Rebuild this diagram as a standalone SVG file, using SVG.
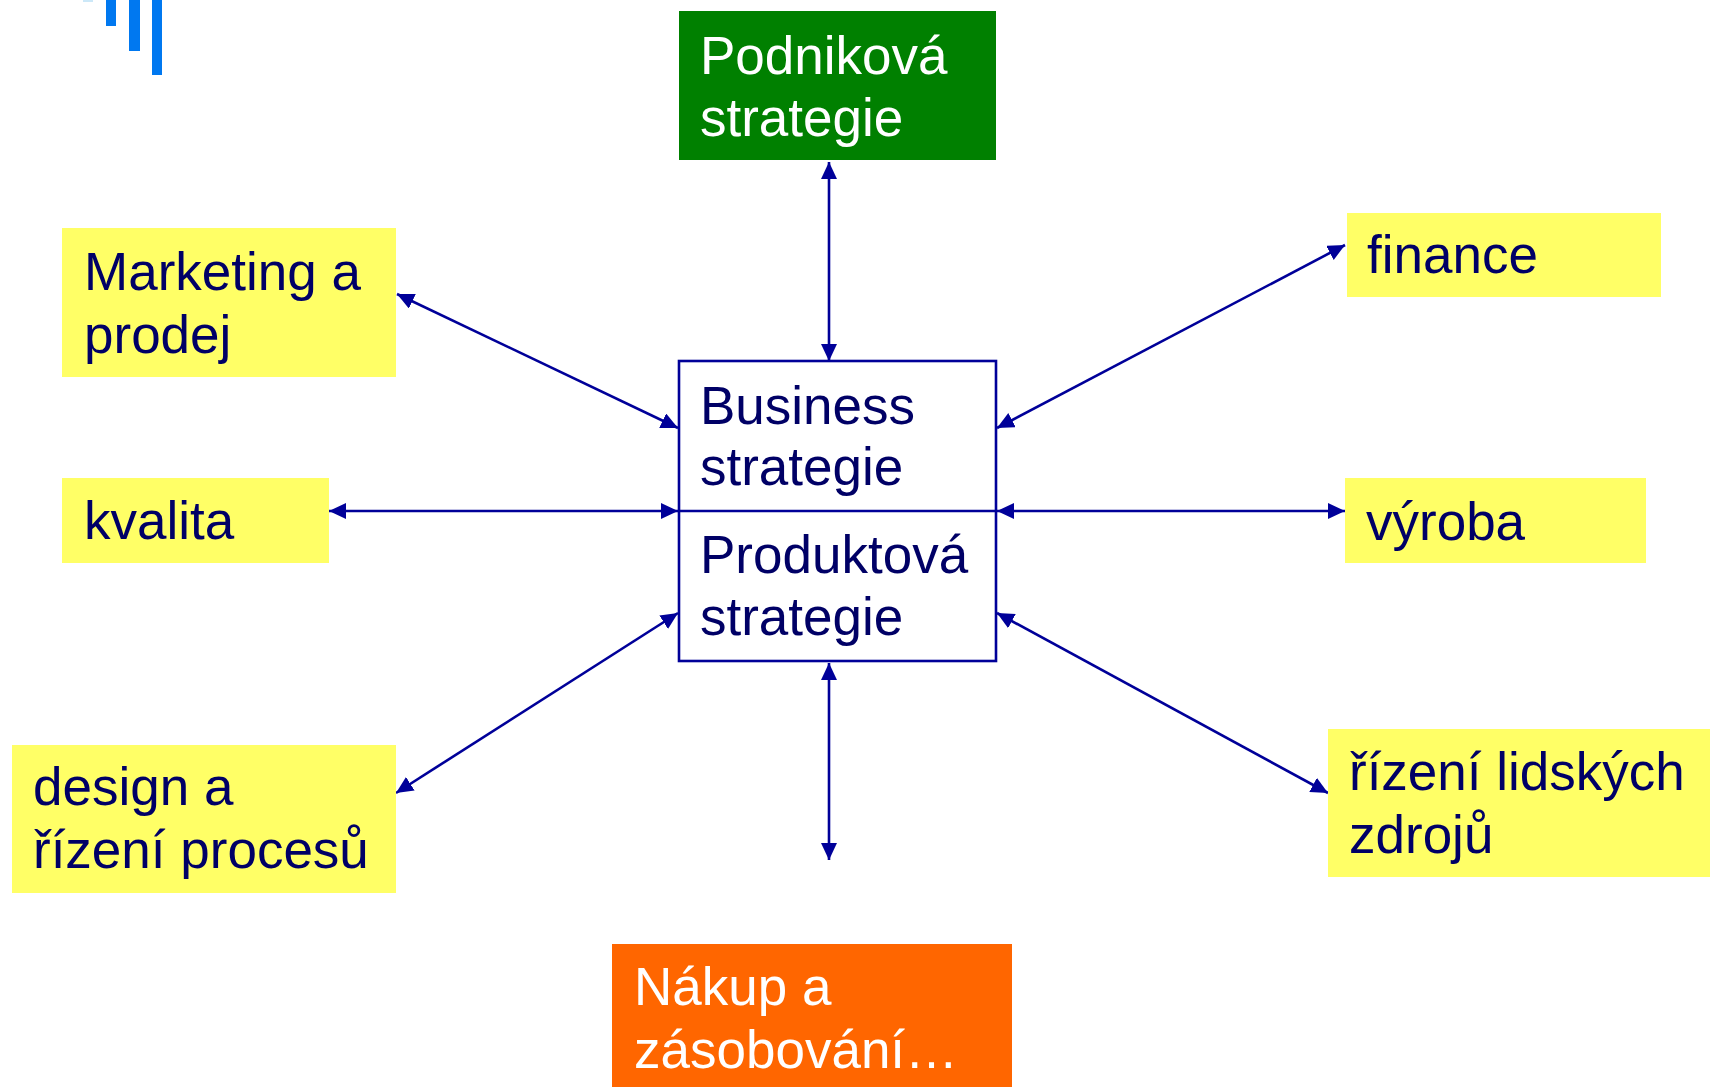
<svg xmlns="http://www.w3.org/2000/svg" width="1710" height="1087" viewBox="0 0 1710 1087">
<style>
text{font-family:"Liberation Sans",Arial,sans-serif;font-size:53px}
.dk{fill:#000066}
.wt{fill:#ffffff}
.yl{fill:#ffff66}
.cn{stroke:#000099;stroke-width:2.6;fill:none;marker-start:url(#ah);marker-end:url(#ah)}
</style>
<defs>
<marker id="ah" markerUnits="userSpaceOnUse" markerWidth="17" markerHeight="16" refX="17" refY="8" orient="auto-start-reverse" viewBox="0 0 17 16">
<path d="M0,0 L17,8 L0,16 z" fill="#000099"/>
</marker>
</defs>
<rect width="1710" height="1087" fill="#ffffff"/>
<g id="logo">
<rect x="83" y="0" width="10" height="2" fill="#cce8f8"/>
<rect x="106" y="0" width="10" height="26" fill="#0078f0"/>
<rect x="129" y="0" width="11" height="51" fill="#0078f0"/>
<rect x="152" y="0" width="10" height="75" fill="#0078f0"/>
</g>
<g id="connectors">
<line class="cn" x1="829" y1="162" x2="829" y2="361"/>
<line class="cn" x1="829" y1="663" x2="829" y2="860"/>
<line class="cn" x1="397" y1="294" x2="678" y2="428"/>
<line class="cn" x1="329" y1="511" x2="678" y2="511"/>
<line class="cn" x1="396" y1="793" x2="678" y2="613"/>
<line class="cn" x1="1345" y1="245" x2="997" y2="428"/>
<line class="cn" x1="997" y1="511" x2="1345" y2="511"/>
<line class="cn" x1="1328" y1="793" x2="997" y2="613"/>
</g>
<g id="podnikova">
<rect x="679" y="11" width="317" height="149" fill="#008000"/>
<text class="wt" x="700" y="74">Podniková</text>
<text class="wt" x="700" y="136">strategie</text>
</g>
<g id="center">
<rect x="679" y="361" width="317" height="300" fill="#ffffff" stroke="#000099" stroke-width="2.6"/>
<line x1="679" y1="511" x2="996" y2="511" stroke="#000099" stroke-width="2.6"/>
<text class="dk" x="700" y="424">Business</text>
<text class="dk" x="700" y="485">strategie</text>
<text class="dk" x="700" y="573">Produktová</text>
<text class="dk" x="700" y="635">strategie</text>
</g>
<g id="marketing">
<rect class="yl" x="62" y="228" width="334" height="149"/>
<text class="dk" x="84" y="290">Marketing a</text>
<text class="dk" x="84" y="353">prodej</text>
</g>
<g id="kvalita">
<rect class="yl" x="62" y="478" width="267" height="85"/>
<text class="dk" x="84" y="539">kvalita</text>
</g>
<g id="design">
<rect class="yl" x="12" y="745" width="384" height="148"/>
<text class="dk" x="33" y="805">design a</text>
<text class="dk" x="33" y="868">řízení procesů</text>
</g>
<g id="finance">
<rect class="yl" x="1347" y="213" width="314" height="84"/>
<text class="dk" x="1367" y="273">finance</text>
</g>
<g id="vyroba">
<rect class="yl" x="1345" y="478" width="301" height="85"/>
<text class="dk" x="1366" y="540">výroba</text>
</g>
<g id="lidske">
<rect class="yl" x="1328" y="729" width="382" height="148"/>
<text class="dk" x="1349" y="790">řízení lidských</text>
<text class="dk" x="1349" y="853">zdrojů</text>
</g>
<g id="nakup">
<rect x="612" y="944" width="400" height="143" fill="#ff6600"/>
<text class="wt" x="634" y="1005">Nákup a</text>
<text class="wt" x="634" y="1068">zásobování…</text>
</g>
</svg>
